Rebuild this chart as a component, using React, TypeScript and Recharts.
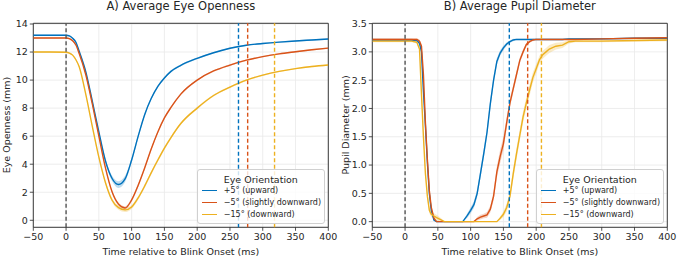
import React from 'react';
import {
  ComposedChart,
  Line,
  Area,
  XAxis,
  YAxis,
  CartesianGrid,
  ReferenceLine,
  ReferenceArea,
} from 'recharts';

// ---- series colours / labels ----
const seriesNames = ['+5° (upward)', '\u22125° (slightly downward)', '\u221215° (downward)'];
const seriesColors = ['#0072BD', '#D95319', '#EDB120'];

// ---- A) eye openness (mm) ----
const timeA = [-50, -25, 0, 5, 10, 15, 20, 30, 40, 50, 60, 70, 80, 90, 100, 110, 120, 130, 140, 150, 160, 175, 200, 225, 250, 275, 300, 325, 350, 375, 400];
const opennessUp = [13.2, 13.2, 13.2, 13.15, 12.98, 12.7, 12.05, 10.6, 8.5, 6.3, 4.25, 3.0, 2.55, 2.95, 4.3, 6.0, 7.55, 8.7, 9.55, 10.15, 10.62, 11.05, 11.55, 11.95, 12.27, 12.48, 12.61, 12.71, 12.79, 12.86, 12.93];
const opennessSlight = [13.0, 13.0, 13.0, 12.95, 12.8, 12.5, 11.9, 10.4, 8.3, 6.0, 3.75, 2.05, 1.15, 0.88, 1.45, 2.5, 3.75, 5.1, 6.3, 7.3, 8.05, 9.0, 10.0, 10.65, 11.07, 11.42, 11.67, 11.87, 12.02, 12.16, 12.28];
const opennessDown = [12.0, 12.0, 11.98, 11.93, 11.78, 11.45, 10.95, 9.0, 6.7, 4.5, 2.7, 1.45, 0.9, 0.74, 0.95, 1.6, 2.45, 3.4, 4.3, 5.15, 5.9, 6.9, 8.0, 8.9, 9.5, 10.0, 10.35, 10.62, 10.82, 10.97, 11.08];
// half-width of the shaded confidence band
const opennessUpCI = [0.06, 0.06, 0.06, 0.06, 0.06, 0.07, 0.08, 0.1, 0.1, 0.12, 0.15, 0.2, 0.24, 0.22, 0.18, 0.14, 0.12, 0.1, 0.09, 0.08, 0.08, 0.07, 0.06, 0.06, 0.06, 0.05, 0.05, 0.05, 0.05, 0.05, 0.05];
const opennessSlightCI = [0.05, 0.05, 0.05, 0.05, 0.05, 0.06, 0.07, 0.08, 0.08, 0.09, 0.1, 0.11, 0.12, 0.12, 0.12, 0.12, 0.11, 0.1, 0.09, 0.08, 0.08, 0.07, 0.06, 0.06, 0.06, 0.05, 0.05, 0.05, 0.05, 0.05, 0.05];
const opennessDownCI = [0.05, 0.05, 0.05, 0.05, 0.05, 0.06, 0.07, 0.08, 0.09, 0.1, 0.12, 0.14, 0.15, 0.15, 0.14, 0.13, 0.13, 0.12, 0.12, 0.11, 0.1, 0.09, 0.08, 0.07, 0.06, 0.06, 0.05, 0.05, 0.05, 0.05, 0.05];
const recoveryA = [263, 277, 318];

// ---- B) pupil diameter (mm) ----
const timeB = [-50, 0, 10, 18, 22, 25, 28, 31, 34, 37, 40, 44, 48, 55, 60, 88, 95, 100, 105, 110, 115, 120, 125, 130, 135, 140, 145, 150, 155, 160, 165, 170, 175, 180, 185, 190, 195, 200, 205, 210, 215, 220, 230, 240, 250, 260, 300, 350, 400];
const pupilUp = [3.21, 3.21, 3.21, 3.2, 3.15, 3.0, 2.3, 1.7, 1.05, 0.5, 0.2, 0.03, 0, 0, 0, 0, 0.11, 0.2, 0.3, 0.5, 0.85, 1.2, 1.58, 2.08, 2.5, 2.83, 2.98, 3.07, 3.14, 3.18, 3.21, 3.22, 3.22, 3.22, 3.22, 3.22, 3.22, 3.22, 3.22, 3.22, 3.22, 3.22, 3.22, 3.22, 3.23, 3.23, 3.23, 3.24, 3.24];
const pupilSlight = [3.22, 3.22, 3.22, 3.22, 3.19, 3.1, 2.6, 1.75, 1.1, 0.55, 0.25, 0.06, 0, 0, 0, 0, 0, 0, 0, 0.05, 0.08, 0.1, 0.12, 0.22, 0.45, 0.88, 1.15, 1.38, 1.75, 2.1, 2.35, 2.6, 2.85, 3.0, 3.13, 3.18, 3.21, 3.22, 3.22, 3.22, 3.22, 3.22, 3.22, 3.22, 3.22, 3.22, 3.23, 3.24, 3.25];
const pupilDown = [3.19, 3.19, 3.19, 3.17, 3.05, 2.25, 1.5, 0.85, 0.45, 0.2, 0.13, 0.1, 0.07, 0.03, 0, 0, 0, 0, 0, 0, 0, 0, 0, 0, 0, 0, 0.06, 0.13, 0.25, 0.45, 0.85, 1.2, 1.53, 1.85, 2.1, 2.33, 2.55, 2.7, 2.86, 2.95, 3.0, 3.05, 3.1, 3.12, 3.18, 3.19, 3.19, 3.2, 3.21];
const pupilUpCI = [0.02, 0.02, 0.02, 0.02, 0.03, 0.04, 0.05, 0.05, 0.05, 0.04, 0.03, 0.02, 0, 0, 0, 0, 0.04, 0.05, 0.06, 0.07, 0.08, 0.08, 0.08, 0.08, 0.07, 0.06, 0.05, 0.04, 0.03, 0.02, 0.02, 0.01, 0.01, 0.01, 0.01, 0.01, 0.01, 0.01, 0.01, 0.01, 0.01, 0.01, 0.01, 0.01, 0.01, 0.01, 0.01, 0.01, 0.01];
const pupilSlightCI = [0.02, 0.02, 0.02, 0.02, 0.03, 0.04, 0.05, 0.05, 0.05, 0.04, 0.03, 0.02, 0, 0, 0, 0, 0, 0, 0, 0.03, 0.04, 0.04, 0.05, 0.06, 0.08, 0.1, 0.12, 0.12, 0.1, 0.08, 0.07, 0.06, 0.05, 0.04, 0.03, 0.02, 0.02, 0.01, 0.01, 0.01, 0.01, 0.01, 0.01, 0.01, 0.01, 0.01, 0.01, 0.01, 0.01];
const pupilDownCI = [0.02, 0.02, 0.02, 0.02, 0.03, 0.04, 0.05, 0.05, 0.05, 0.05, 0.05, 0.05, 0.05, 0.03, 0, 0, 0, 0, 0, 0, 0, 0, 0, 0, 0, 0, 0.03, 0.05, 0.07, 0.09, 0.1, 0.1, 0.1, 0.1, 0.1, 0.1, 0.09, 0.08, 0.07, 0.07, 0.07, 0.07, 0.06, 0.05, 0.03, 0.02, 0.02, 0.02, 0.02];
const recoveryB = [159, 187, 208];

const xTicks = [-50, 0, 50, 100, 150, 200, 250, 300, 350, 400];
const opennessTicks = [0, 2, 4, 6, 8, 10, 12, 14];
const pupilTicks = [0, 0.5, 1, 1.5, 2, 2.5, 3, 3.5];

const FONT = '"DejaVu Sans", sans-serif';
const INK = '#262626';

const fmtMinus = (v: number) => (v < 0 ? `\u2212${Math.abs(v)}` : `${v}`);

function buildRows(time: number[], series: number[][], ci: number[][]) {
  return time.map((t, i) => {
    const row: Record<string, any> = { t };
    series.forEach((s, k) => {
      row[`s${k}`] = s[i];
      row[`b${k}`] = [s[i] - ci[k][i], s[i] + ci[k][i]];
    });
    return row;
  });
}

const rowsA = buildRows(timeA, [opennessUp, opennessSlight, opennessDown], [opennessUpCI, opennessSlightCI, opennessDownCI]);
const rowsB = buildRows(timeB, [pupilUp, pupilSlight, pupilDown], [pupilUpCI, pupilSlightCI, pupilDownCI]);

function LegendBox({ right, bottom }: { right: number; bottom: number }) {
  return (
    <div
      style={{
        position: 'absolute',
        right,
        bottom,
        width: 128,
        height: 55,
        boxSizing: 'border-box',
        background: 'rgba(255,255,255,0.8)',
        border: '1px solid #d0d0d0',
        borderRadius: 3,
        fontFamily: FONT,
        color: INK,
      }}
    >
      <div style={{ fontSize: 9.5, textAlign: 'center', marginTop: 4, lineHeight: '11px' }}>Eye Orientation</div>
      {seriesNames.map((name, k) => (
        <div key={name} style={{ display: 'flex', alignItems: 'center', height: 12, marginLeft: 4 }}>
          <div style={{ width: 15, height: 0, borderTop: `1.5px solid ${seriesColors[k]}`, marginRight: 7 }} />
          <span style={{ fontSize: 8, whiteSpace: 'nowrap' }}>{name}</span>
        </div>
      ))}
    </div>
  );
}

interface PanelProps {
  rows: Record<string, any>[];
  title: string;
  yLabel: string;
  domain: [number, number];
  ticks: number[];
  recovery: number[];
  curve: 'monotone' | 'linear';
}

function Panel({ rows, title, yLabel, domain, ticks, recovery, curve }: PanelProps) {
  const W = 339;
  const H = 257;
  const left = 33.3;
  const right = 10.7;
  const top = 23.3;
  const xAxisH = 29.7;
  return (
    <div style={{ position: 'relative', width: W, height: H }}>
      <ComposedChart width={W} height={H} data={rows} margin={{ top, right, left: 0, bottom: 0 }}>
        <CartesianGrid stroke="#e8e8e8" strokeWidth={0.8} />
        <XAxis
          dataKey="t"
          type="number"
          domain={[-50, 400]}
          ticks={xTicks}
          allowDataOverflow
          tickFormatter={fmtMinus}
          height={xAxisH}
          axisLine={false}
          tickSize={3.5}
          tickLine={{ stroke: INK, strokeWidth: 0.8 }}
          tick={{ fill: INK, fontSize: 9.5, fontFamily: FONT }}
          label={{ value: 'Time relative to Blink Onset (ms)', position: 'insideBottom', offset: 2, fill: INK, fontSize: 9.5, fontFamily: FONT }}
        />
        <YAxis
          type="number"
          domain={domain}
          ticks={ticks}
          allowDataOverflow
          width={left}
          axisLine={false}
          tickSize={3.5}
          tickLine={{ stroke: INK, strokeWidth: 0.8 }}
          tick={{ fill: INK, fontSize: 9.5, fontFamily: FONT }}
          tickFormatter={(v: number) => (ticks[1] < 1 ? v.toFixed(1) : `${v}`)}
        />
        {[0, 1, 2].map((k) => (
          <Area
            key={`band${k}`}
            dataKey={`b${k}`}
            type={curve}
            stroke="none"
            fill={seriesColors[k]}
            fillOpacity={0.25}
            isAnimationActive={false}
            activeDot={false}
          />
        ))}
        {[0, 1, 2].map((k) => (
          <Line
            key={`line${k}`}
            dataKey={`s${k}`}
            type={curve}
            stroke={seriesColors[k]}
            strokeWidth={1.4}
            dot={false}
            activeDot={false}
            isAnimationActive={false}
          />
        ))}
        <ReferenceLine x={0} stroke="#555" strokeWidth={1.4} strokeDasharray="4 2.5" />
        {recovery.map((x, k) => (
          <ReferenceLine key={`rec${k}`} x={x} stroke={seriesColors[k]} strokeWidth={1.4} strokeDasharray="4 2.5" />
        ))}
        <ReferenceArea x1={-50} x2={400} y1={domain[0]} y2={domain[1]} fill="none" stroke={INK} strokeWidth={0.9} ifOverflow="visible" />
      </ComposedChart>
      <div
        style={{
          position: 'absolute',
          left: left + (W - left - right) / 2,
          top: 6,
          transform: 'translate(-50%, -50%)',
          fontSize: 11.5,
          fontFamily: FONT,
          color: INK,
          whiteSpace: 'nowrap',
        }}
      >
        {title}
      </div>
      <div
        style={{
          position: 'absolute',
          left: 6,
          top: top + (H - top - xAxisH) / 2,
          transform: 'translate(-50%, -50%) rotate(-90deg)',
          fontSize: 9.5,
          fontFamily: FONT,
          color: INK,
          whiteSpace: 'nowrap',
        }}
      >
        {yLabel}
      </div>
      <LegendBox right={right + 3.5} bottom={xAxisH + 3.5} />
    </div>
  );
}

export default function App() {
  return (
    <div style={{ position: 'absolute', left: 0, top: 0, width: 678, height: 257, background: '#fff', display: 'flex' }}>
      <Panel
        rows={rowsA}
        title="A) Average Eye Openness"
        yLabel="Eye Openness (mm)"
        domain={[-0.5, 14.05]}
        ticks={opennessTicks}
        recovery={recoveryA}
        curve="monotone"
      />
      <Panel
        rows={rowsB}
        title="B) Average Pupil Diameter"
        yLabel="Pupil Diameter (mm)"
        domain={[-0.1, 3.505]}
        ticks={pupilTicks}
        recovery={recoveryB}
        curve="linear"
      />
    </div>
  );
}
